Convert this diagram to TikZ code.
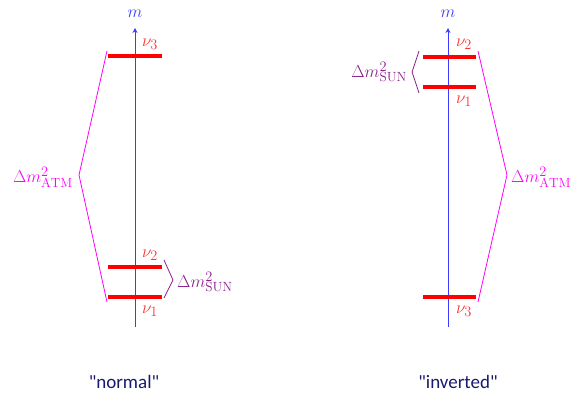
\documentclass[tikz,border=0pt]{standalone}
\usepackage{fontspec}
\newfontfamily\labelfont{Carlito}
\definecolor{axisblue}{RGB}{60,60,255}
\definecolor{barred}{RGB}{255,0,0}
\definecolor{nured}{RGB}{255,50,50}
\definecolor{atmmag}{RGB}{255,0,255}
\definecolor{sunpur}{RGB}{140,30,140}
\definecolor{navy}{RGB}{25,25,110}
\tikzset{
  axisline/.style={draw=axisblue, line width=0.9pt, -{Stealth[length=5pt,width=5pt]}},
  levelbar/.style={draw=barred, line width=3.6pt},
  nulabel/.style={text=nured, font=\fontsize{19}{19}\selectfont, inner sep=0pt},
  mlabel/.style={text=axisblue, font=\fontsize{19}{19}\selectfont, inner sep=0pt},
  atmbrace/.style={draw=atmmag, line width=0.8pt},
  sunbrace/.style={draw=sunpur, line width=0.8pt},
  atmlabel/.style={text=atmmag, font=\fontsize{19}{19}\selectfont, inner sep=0pt},
  sunlabel/.style={text=sunpur, font=\fontsize{19}{19}\selectfont, inner sep=0pt},
  caption/.style={text=navy, font=\labelfont\fontsize{19}{19}\selectfont, inner sep=0pt}
}
\usetikzlibrary{arrows.meta}
\begin{document}
\begin{tikzpicture}[x=1pt,y=-1pt]
\useasboundingbox (0,0) rectangle (572,395);
% ---------- normal ----------
\coordinate (Lbot) at (135,327);
\coordinate (Ltop) at (135,28);
\draw[axisline] (Lbot) -- (Ltop);
\node[mlabel] (Lm) at (135,14) {$m$};
\coordinate (L3a) at (108,56); \coordinate (L3b) at (162,56);
\coordinate (L2a) at (108,267); \coordinate (L2b) at (162,267);
\coordinate (L1a) at (108,297); \coordinate (L1b) at (162,297);
\draw[levelbar] (L3a) -- (L3b);
\draw[levelbar] (L2a) -- (L2b);
\draw[levelbar] (L1a) -- (L1b);
\node[nulabel] (Lnu3) at (150,44) {$\nu_3$};
\node[nulabel] (Lnu2) at (150,255) {$\nu_2$};
\node[nulabel] (Lnu1) at (150,311) {$\nu_1$};
\coordinate (LAt) at (107,51); \coordinate (LAm) at (79,175); \coordinate (LAb) at (107,302);
\draw[atmbrace] (LAt) -- (LAm) -- (LAb);
\node[atmlabel, anchor=east] (LAtm) at (73,177) {$\Delta m^2_{\mathrm{ATM}}$};
\coordinate (LSt) at (164,260); \coordinate (LSm) at (173,280); \coordinate (LSb) at (164,298);
\draw[sunbrace] (LSt) -- (LSm) -- (LSb);
\node[sunlabel, anchor=west] (LSun) at (177,282) {$\Delta m^2_{\mathrm{SUN}}$};
\node[caption] (Lcap) at (124,382) {"normal"};
% ---------- inverted ----------
\coordinate (Rbot) at (448,327);
\coordinate (Rtop) at (448,28);
\draw[axisline] (Rbot) -- (Rtop);
\node[mlabel] (Rm) at (448,14) {$m$};
\coordinate (R2a) at (423,57); \coordinate (R2b) at (476,57);
\coordinate (R1a) at (423,87); \coordinate (R1b) at (476,87);
\coordinate (R3a) at (423,297); \coordinate (R3b) at (476,297);
\draw[levelbar] (R2a) -- (R2b);
\draw[levelbar] (R1a) -- (R1b);
\draw[levelbar] (R3a) -- (R3b);
\node[nulabel] (Rnu2) at (464,44) {$\nu_2$};
\node[nulabel] (Rnu1) at (464,101) {$\nu_1$};
\node[nulabel] (Rnu3) at (464,311) {$\nu_3$};
\coordinate (RSt) at (419,51); \coordinate (RSm) at (412,72); \coordinate (RSb) at (419,93);
\draw[sunbrace] (RSt) -- (RSm) -- (RSb);
\node[sunlabel, anchor=east] (RSun) at (407,72) {$\Delta m^2_{\mathrm{SUN}}$};
\coordinate (RAt) at (478,51); \coordinate (RAm) at (507,175); \coordinate (RAb) at (478,302);
\draw[atmbrace] (RAt) -- (RAm) -- (RAb);
\node[atmlabel, anchor=west] (RAtm) at (511,177) {$\Delta m^2_{\mathrm{ATM}}$};
\node[caption] (Rcap) at (458,382) {"inverted"};
\end{tikzpicture}
\end{document}
